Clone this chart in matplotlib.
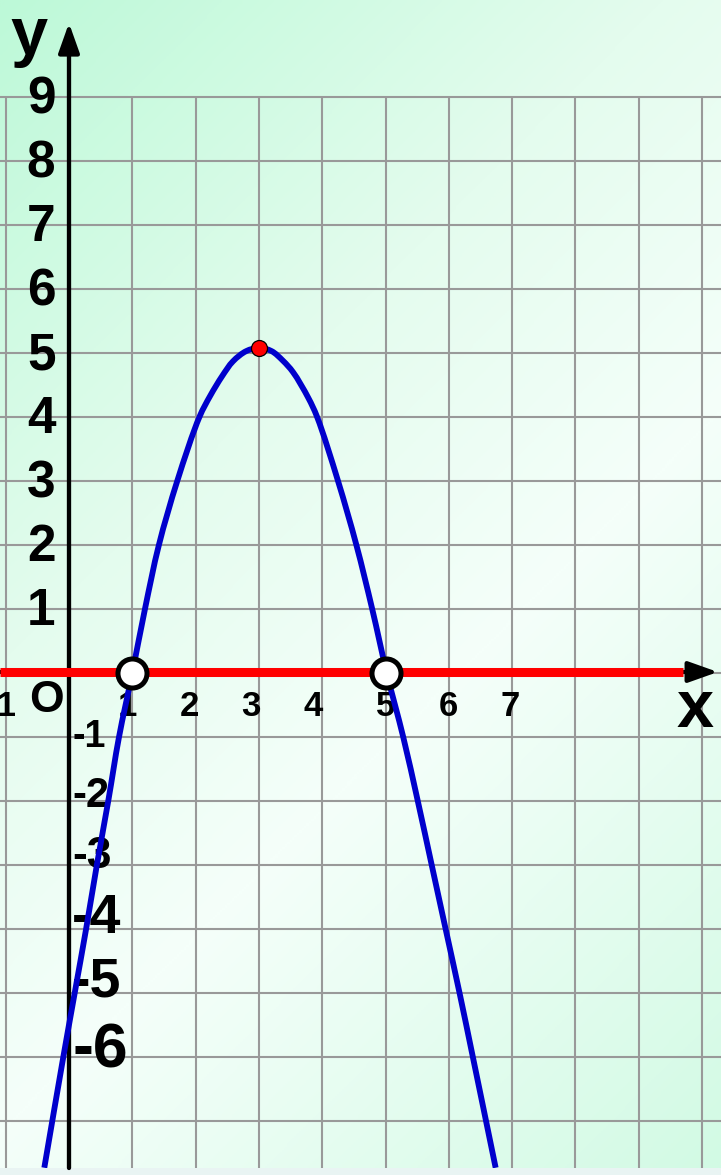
import numpy as np
import matplotlib
matplotlib.use("Agg")
import matplotlib.pyplot as plt
from matplotlib.colors import LinearSegmentedColormap
from matplotlib.path import Path
from matplotlib.patches import PathPatch

# Hand-sketched parabola, points taken along the drawn curve
curve_x = [-0.39, -0.09, 0.09, 0.27, 0.44, 0.62, 0.79, 1.00, 1.20, 1.42, 1.71,
           2.06, 2.23, 2.42, 2.59, 2.80, 3.00, 3.20, 3.38, 3.54, 3.78, 3.92,
           4.25, 4.54, 4.79, 5.02, 5.28, 5.51, 5.73, 5.95, 6.17, 6.38, 6.74]
curve_y = [-7.73, -6.0, -5.0, -4.0, -3.0, -2.0, -1.0, 0.0, 1.0, 2.0, 3.0,
           4.0, 4.33, 4.64, 4.87, 5.03, 5.08, 5.03, 4.88, 4.70, 4.30, 4.0,
           3.0, 2.0, 1.0, 0.0, -1.0, -2.0, -3.0, -4.0, -5.0, -6.0, -7.73]

roots_x = [1, 5]
vertex_x, vertex_y = 3, 5.08

x_tick_values = [1, 2, 3, 4, 5, 6, 7]
y_tick_pos = [1, 2, 3, 4, 5, 6, 7, 8, 9]
y_tick_neg = [-1, -2, -3, -4, -5, -6]

# layout constants
x_label_nudge = [-0.08, -0.10, -0.125, -0.145, 0.0, -0.01, -0.03]
neg_label_size = [27, 30, 32, 40, 40, 45]
neg_label_drop = [0.156, 0.09, 0.05, 0.06, 0.06, 0.17]

W, H = 721, 1175
AX_H = 1168
FONT = ['Liberation Sans Narrow', 'Liberation Sans', 'DejaVu Sans']


def smooth_path(xs, ys, alpha=0.5):
    """Centripetal Catmull-Rom curve through the points, as cubic Bezier segments."""
    pts = np.column_stack([xs, ys]).astype(float)
    ext = np.vstack([2 * pts[0] - pts[1], pts, 2 * pts[-1] - pts[-2]])
    verts = [pts[0]]
    codes = [Path.MOVETO]
    for i in range(1, len(ext) - 2):
        p0, p1, p2, p3 = ext[i - 1], ext[i], ext[i + 1], ext[i + 2]
        d1 = np.linalg.norm(p1 - p0) ** alpha
        d2 = np.linalg.norm(p2 - p1) ** alpha
        d3 = np.linalg.norm(p3 - p2) ** alpha
        b1 = (d1 ** 2 * p2 - d2 ** 2 * p0 + (2 * d1 ** 2 + 3 * d1 * d2 + d2 ** 2) * p1) \
            / (3 * d1 * (d1 + d2))
        b2 = (d3 ** 2 * p1 - d2 ** 2 * p3 + (2 * d3 ** 2 + 3 * d3 * d2 + d2 ** 2) * p2) \
            / (3 * d3 * (d3 + d2))
        verts += [b1, b2, p2]
        codes += [Path.CURVE4] * 3
    return Path(verts, codes)


fig = plt.figure(figsize=(W / 100, H / 100), dpi=100, facecolor='#e9f4f3')
ax = fig.add_axes([0, (H - AX_H) / H, 1, AX_H / H])
x0, x1 = -1.09, 10.30
y0, y1 = -7.734, 10.516
ax.set_xlim(x0, x1)
ax.set_ylim(y0, y1)
ax.axis('off')

# diagonal mint background
cmap = LinearSegmentedColormap.from_list(
    'mint', [(0.0, '#bdf9d8'), (0.35, '#e4fcee'), (0.6, '#f5fffa'), (1.0, '#d2fae4')])
gx, gy = np.meshgrid(np.linspace(0, W, 300), np.linspace(0, AX_H, 500))
t = (gx + gy) / (W + AX_H)
ax.imshow(t, cmap=cmap, vmin=0, vmax=1, extent=(x0, x1, y0, y1),
          origin='upper', aspect='auto', zorder=0, interpolation='bilinear')

# square grid
grid_kw = dict(color='#999999', lw=1.5, zorder=1, solid_capstyle='butt')
for gxv in [-1] + list(range(1, 11)):
    ax.plot([gxv, gxv], [y0, 9], **grid_kw)
for gyv in range(-7, 10):
    ax.plot([x0, x1], [gyv, gyv], **grid_kw)

# axes with arrow heads
arrow_style = '-|>,head_length=0.9,head_width=0.32'
ax.annotate('', xy=(0, 10.156), xytext=(0, y0),
            arrowprops=dict(arrowstyle=arrow_style, lw=3.1, color='black',
                            mutation_scale=20, shrinkA=0, shrinkB=0), zorder=3)
ax.annotate('', xy=(10.25, 0.016), xytext=(x0, 0.016),
            arrowprops=dict(arrowstyle=arrow_style, lw=3.0, color='black',
                            mutation_scale=20, shrinkA=0, shrinkB=0), zorder=3)

# labels
txt = dict(family=FONT, weight='bold', color='black', zorder=4)
for v in y_tick_pos:
    ax.text(-0.44, v - 0.25, str(v), ha='center', va='baseline', fontsize=37, **txt)
for v, fs, d in zip(y_tick_neg, neg_label_size, neg_label_drop):
    ax.text(0.05, v - d, '-' + str(-v), ha='left', va='baseline', fontsize=fs, **txt)
for v, n in zip(x_tick_values, x_label_nudge):
    ax.text(v + n, -0.67, str(v), ha='center', va='baseline', fontsize=25, **txt)
ax.text(-0.82, -0.67, '-1', ha='right', va='baseline', fontsize=25, **txt)
ax.text(-0.363, -0.61, 'O', ha='center', va='baseline', fontsize=32, **txt)
ax.text(9.89, -0.844, 'x', ha='center', va='baseline', fontsize=48, **txt)
ax.text(-0.632, 9.68, 'y', ha='center', va='baseline', fontsize=48, **txt)

# the parabola, the red x-axis band and marked points
ax.add_patch(PathPatch(smooth_path(curve_x, curve_y), facecolor='none',
                       edgecolor='#0000cc', lw=4.2, zorder=5,
                       joinstyle='round', capstyle='butt'))
ax.plot([x0, 9.70], [0.016, 0.016], color='#ff0000', lw=6.5, zorder=6,
        solid_capstyle='butt')
ax.plot(roots_x, [0] * len(roots_x), 'o', ms=20.9, mfc='white', mec='black',
        mew=3.6, zorder=7)
ax.plot([vertex_x], [vertex_y], 'o', ms=11.5, mfc='#ff0000', mec='black',
        mew=0.9, zorder=7)

fig.savefig('out.png', dpi=100, facecolor=fig.get_facecolor())
